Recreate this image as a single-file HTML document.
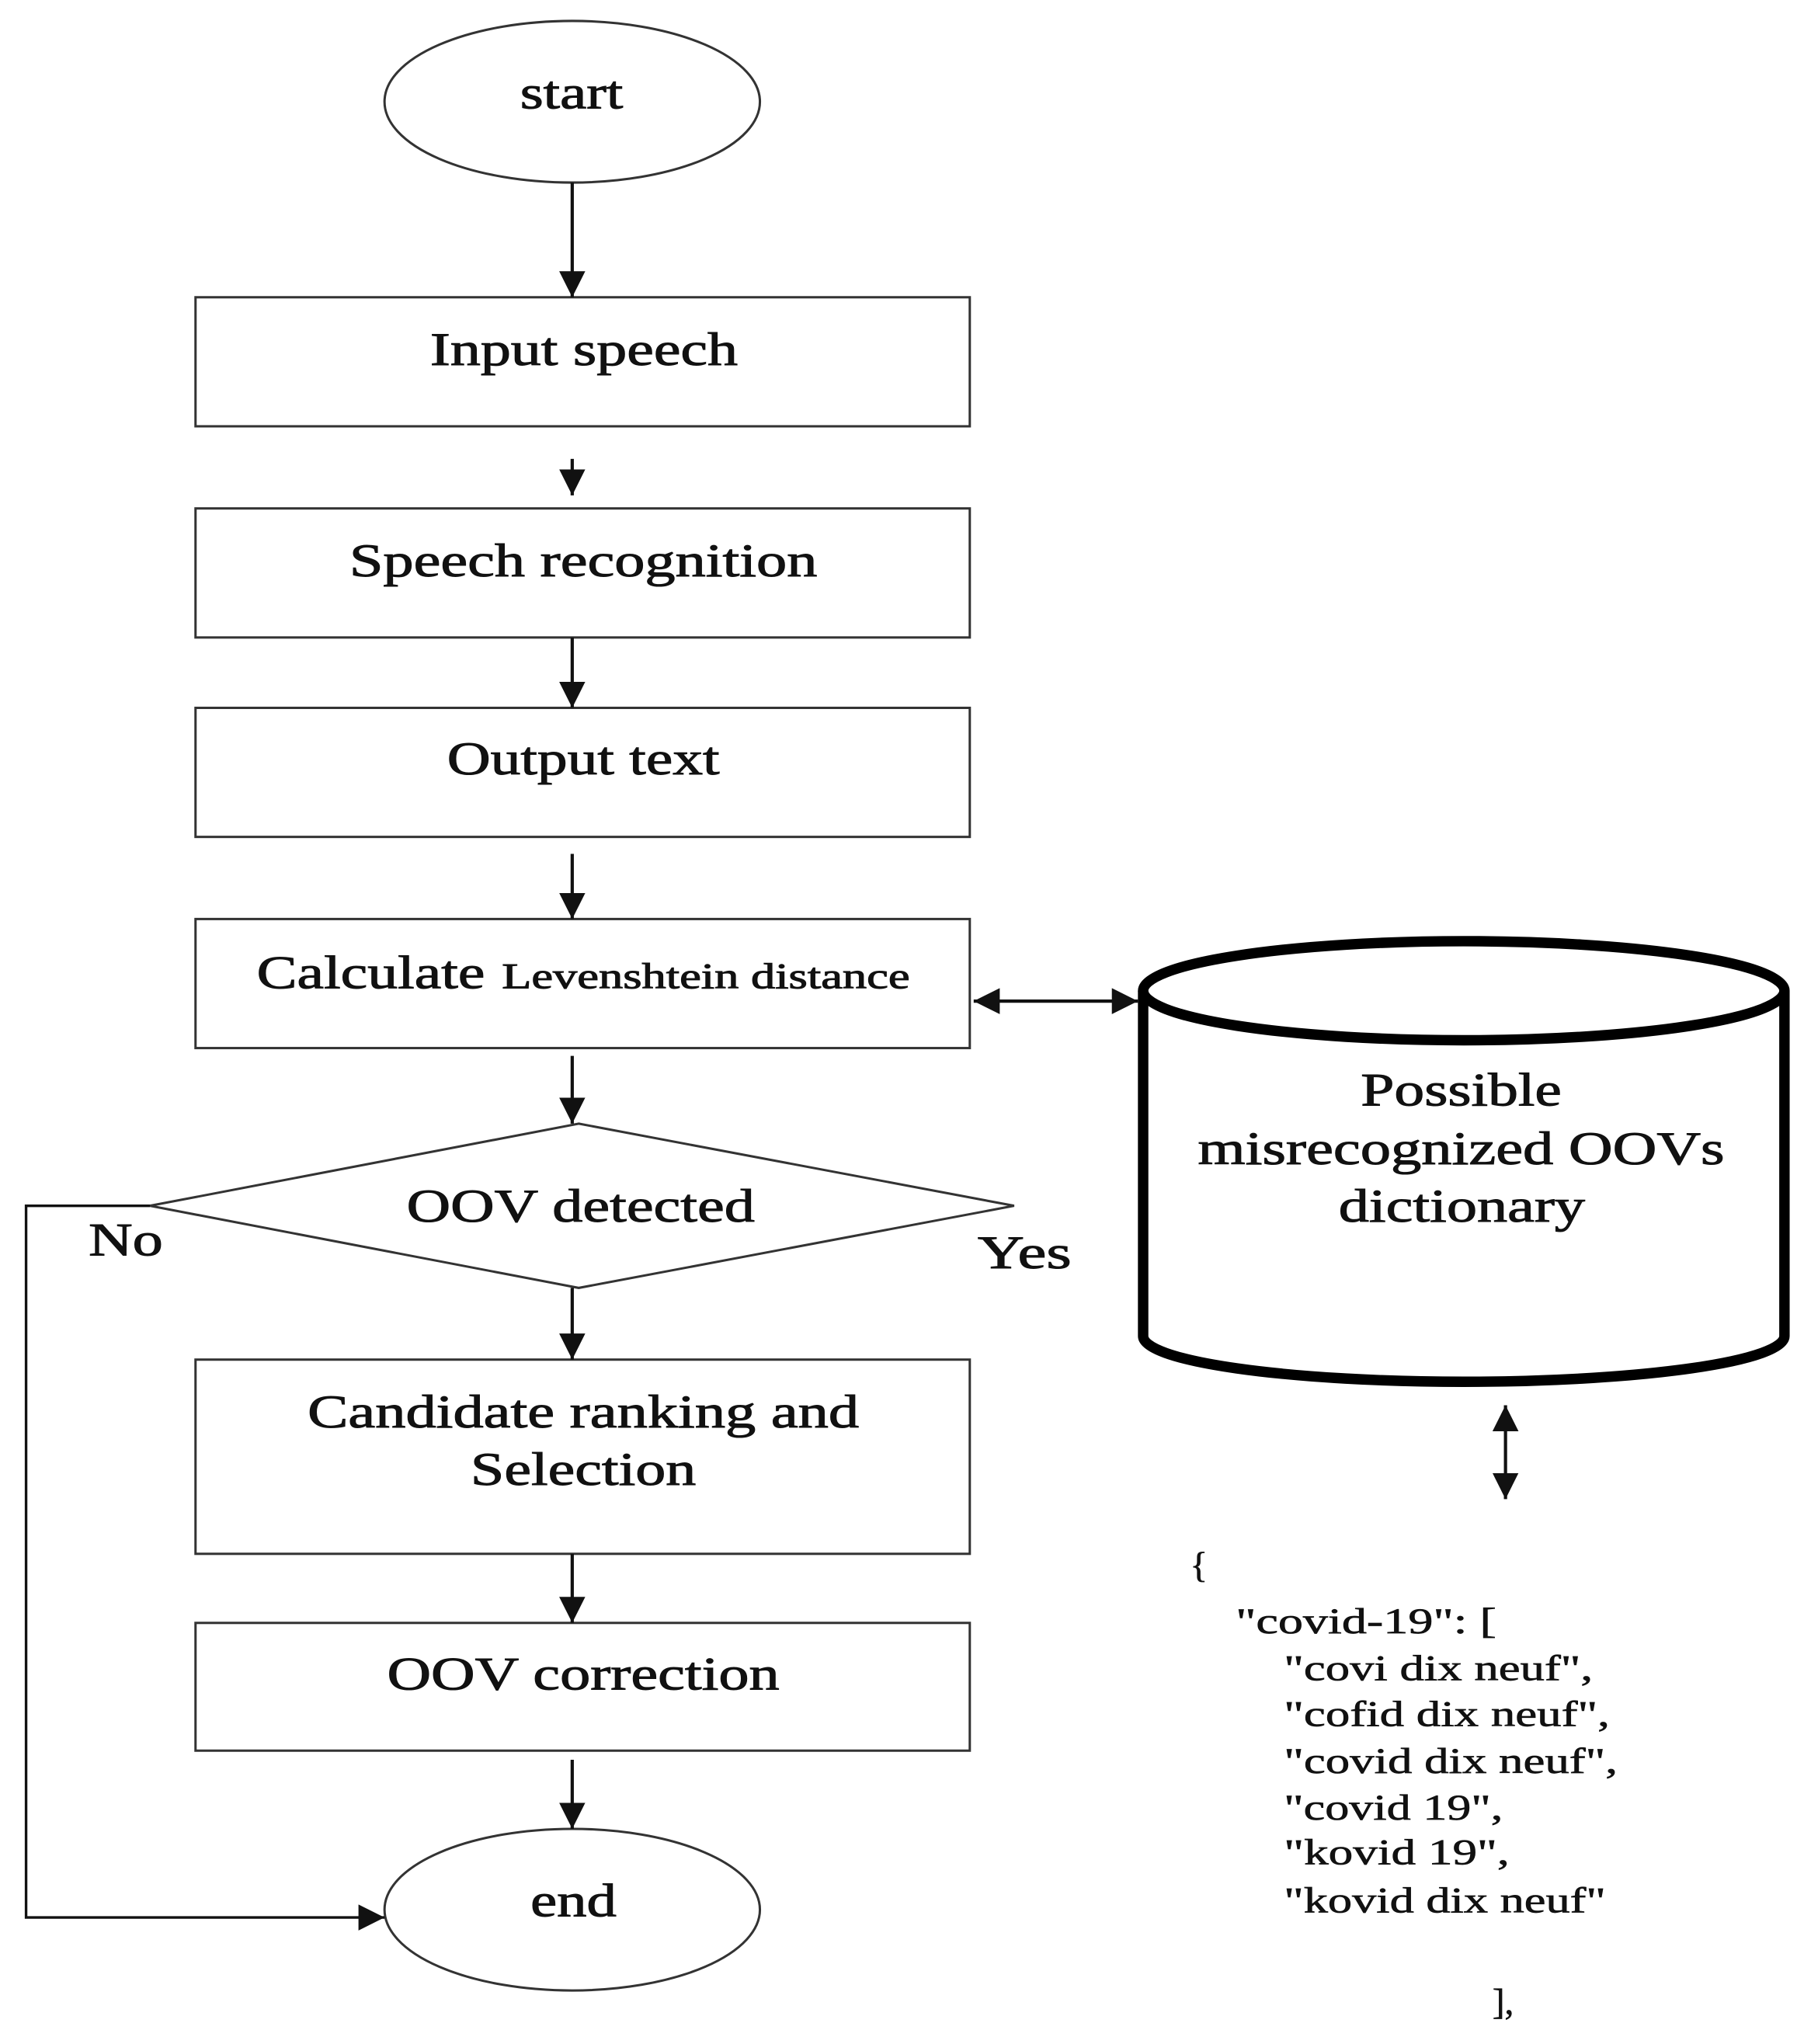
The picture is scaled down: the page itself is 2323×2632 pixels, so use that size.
<!DOCTYPE html>
<html><head><meta charset="utf-8"><style>html,body{margin:0;padding:0;background:#fff}svg{display:block}</style></head>
<body>
<svg width="2323" height="2632" viewBox="0 0 1384 1568" xmlns="http://www.w3.org/2000/svg" font-family="'Liberation Serif', serif" fill="#111">
<defs>
<marker id="b" viewBox="0 0 10 10" refX="10" refY="5" markerWidth="20" markerHeight="20" markerUnits="userSpaceOnUse" orient="auto-start-reverse"><path d="M0,0 L10,5 L0,10 z" fill="#111"/></marker>
</defs>
<g stroke="#333" stroke-width="1.8" fill="none">
<ellipse cx="439" cy="78" rx="144" ry="62"/>
<rect x="150" y="228" width="594" height="99"/>
<rect x="150" y="390" width="594" height="99"/>
<rect x="150" y="543" width="594" height="99"/>
<rect x="150" y="705" width="594" height="99"/>
<polygon points="444,862 778,925 444,988 115,925"/>
<rect x="150" y="1043" width="594" height="149"/>
<rect x="150" y="1245" width="594" height="98"/>
<ellipse cx="439" cy="1465" rx="144" ry="62"/>
</g>
<g stroke="#111" stroke-width="2.5" fill="none">
<line x1="439" y1="140" x2="439" y2="228" marker-end="url(#b)"/>
<line x1="439" y1="352" x2="439" y2="380" marker-end="url(#b)"/>
<line x1="439" y1="489" x2="439" y2="543" marker-end="url(#b)"/>
<line x1="439" y1="655" x2="439" y2="705" marker-end="url(#b)"/>
<line x1="439" y1="810" x2="439" y2="862" marker-end="url(#b)"/>
<line x1="439" y1="988" x2="439" y2="1043" marker-end="url(#b)"/>
<line x1="439" y1="1192" x2="439" y2="1245" marker-end="url(#b)"/>
<line x1="439" y1="1350" x2="439" y2="1403" marker-end="url(#b)"/>
<line x1="747" y1="768" x2="873" y2="768" marker-start="url(#b)" marker-end="url(#b)"/>
<line x1="1155" y1="1078" x2="1155" y2="1150" marker-start="url(#b)" marker-end="url(#b)"/>
<polyline points="115,925 20,925 20,1471 295,1471" stroke-width="2" marker-end="url(#b)"/>
</g>
<g stroke="#000" stroke-width="8" fill="none">
<path d="M877,760 L877,1025 A246,35 0 0 0 1369,1025 L1369,760"/>
<ellipse cx="1123" cy="760" rx="246" ry="38"/>
</g>
<g font-size="36" stroke="#111" stroke-width="0.6">
<text x="399" y="83" textLength="79" lengthAdjust="spacingAndGlyphs">start</text>
<text x="330" y="280" textLength="236" lengthAdjust="spacingAndGlyphs">Input speech</text>
<text x="268" y="442" textLength="359" lengthAdjust="spacingAndGlyphs">Speech recognition</text>
<text x="343" y="594" textLength="209" lengthAdjust="spacingAndGlyphs">Output text</text>
<text x="197" y="758" textLength="175" lengthAdjust="spacingAndGlyphs">Calculate</text>
<text x="385" y="758" font-size="28" textLength="313" lengthAdjust="spacingAndGlyphs">Levenshtein distance</text>
<text x="312" y="937" textLength="267" lengthAdjust="spacingAndGlyphs">OOV detected</text>
<text x="236" y="1095" textLength="423" lengthAdjust="spacingAndGlyphs">Candidate ranking and</text>
<text x="361" y="1139" textLength="173" lengthAdjust="spacingAndGlyphs">Selection</text>
<text x="297" y="1296" textLength="301" lengthAdjust="spacingAndGlyphs">OOV correction</text>
<text x="407" y="1470" textLength="66" lengthAdjust="spacingAndGlyphs">end</text>
<text x="1044" y="848" textLength="154" lengthAdjust="spacingAndGlyphs">Possible</text>
<text x="919" y="893" textLength="404" lengthAdjust="spacingAndGlyphs">misrecognized OOVs</text>
<text x="1027" y="937" textLength="189" lengthAdjust="spacingAndGlyphs">dictionary</text>
<text x="68" y="963" textLength="57" lengthAdjust="spacingAndGlyphs">No</text>
<text x="750" y="973" textLength="72" lengthAdjust="spacingAndGlyphs">Yes</text>
</g>
<g font-size="28" stroke="#111" stroke-width="0.4">
<text x="913" y="1210">{</text>
<text x="948" y="1253" textLength="200" lengthAdjust="spacingAndGlyphs">"covid-19": [</text>
<text x="985" y="1289" textLength="237" lengthAdjust="spacingAndGlyphs">"covi dix neuf",</text>
<text x="985" y="1324" textLength="250" lengthAdjust="spacingAndGlyphs">"cofid dix neuf",</text>
<text x="985" y="1360" textLength="256" lengthAdjust="spacingAndGlyphs">"covid dix neuf",</text>
<text x="985" y="1396" textLength="168" lengthAdjust="spacingAndGlyphs">"covid 19",</text>
<text x="985" y="1430" textLength="173" lengthAdjust="spacingAndGlyphs">"kovid 19",</text>
<text x="985" y="1467" textLength="247" lengthAdjust="spacingAndGlyphs">"kovid dix neuf"</text>
<text x="1145" y="1545">],</text>
</g>
</svg>
</body></html>
